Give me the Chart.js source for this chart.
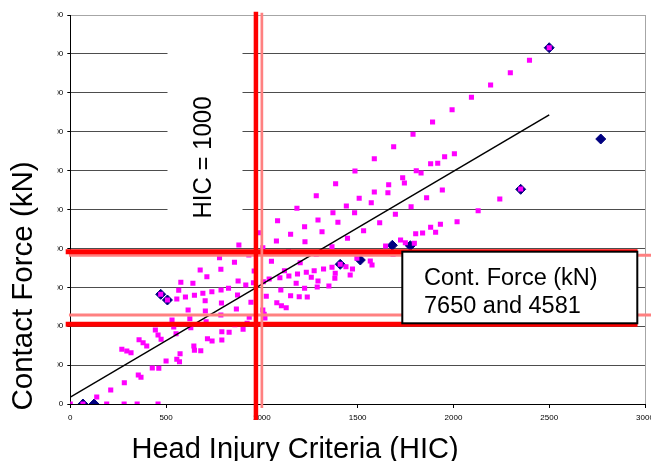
<!DOCTYPE html>
<html>
<head>
<meta charset="utf-8">
<script src="https://cdn.jsdelivr.net/npm/chart.js@4.4.0/dist/chart.umd.min.js"></script>
<style>
  body { margin: 0; background: #fff; }
  #wrap { width: 651px; height: 461px; }
</style>
</head>
<body>
<div id="wrap"><canvas id="hicChart" width="651" height="461"></canvas></div>
<script>
// Magenta squares: HIC against contact force (kN)
const squareHic = [
  0, 66, 190, 281, 349, 458, 138, 211, 282, 355, 369, 428, 462, 500, 556, 570, 573, 269, 295, 317,
  359, 380, 399, 474, 458, 444, 552, 531, 540, 615, 624, 629, 645, 648, 681, 716, 740, 791, 791, 829,
  902, 859, 709, 705, 786, 867, 934, 923, 943, 789, 704, 556, 601, 648, 692, 739, 787, 826, 873, 876,
  916, 956, 577, 566, 640, 678, 713, 786, 779, 857, 880, 932, 960, 984, 1005, 1008, 1023, 1005, 1012, 1016,
  1038, 1050, 1076, 1082, 1094, 1099, 1078, 1102, 1127, 1118, 1139, 1141, 1150, 1150, 1179, 1186, 1183, 1195, 1200, 1223,
  1225, 1223, 1232, 1237, 1258, 1273, 1284, 1293, 1293, 1289, 1314, 1322, 1350, 1366, 1366, 1371, 1381, 1383, 1397, 1409,
  1439, 1441, 1447, 1461, 1473, 1484, 1496, 1508, 1284, 1385, 1486, 1587, 1688, 1789, 1891, 1993, 2094, 2194, 2297, 2397,
  2500, 2005, 1954, 1918, 1881, 1806, 1831, 1735, 1744, 1662, 1658, 1587, 1942, 1860, 2242, 2351, 1571, 1531, 1615, 1697,
  1779, 2129, 2019, 1932, 1881, 1907, 1839, 1803, 1724, 1749, 1796, 1646, 1685, 1566, 1566, 1575, 472, 507
];
const squareForce = [
  0, 0, 0, 0, 0, 0, 360, 720, 1095, 1491, 1373, 1851, 1835, 2211, 2298, 2175, 2586, 2812, 2725, 2637,
  3306, 3151, 2982, 3326, 3547, 3804, 3614, 4318, 3959, 4833, 4385, 3923, 2982, 2761, 2740, 3357, 3239, 3291, 3717, 3686,
  3840, 4077, 4231, 4781, 4576, 4884, 4457, 4149, 5228, 5192, 5311, 5398, 5501, 5588, 5691, 5773, 5861, 5948, 5604, 6323,
  6118, 6236, 6257, 5845, 6205, 6889, 6545, 6925, 7521, 7285, 8174, 7660, 6838, 8807, 8036, 6288, 5537, 4833, 4612, 4421,
  6426, 7336, 8380, 9423, 6493, 5861, 5208, 5054, 4951, 6853, 7830, 6580, 8724, 5568, 6205, 6683, 10061, 5516, 7264, 9115,
  8344, 5948, 6771, 5501, 6514, 6853, 7696, 9459, 6323, 6015, 8858, 6940, 6066, 7028, 8087, 9835, 6462, 6719, 9341, 7182,
  7059, 10179, 8519, 6632, 6940, 9835, 7490, 10575, 10709, 11326, 11979, 12611, 13228, 13865, 14498, 15130, 15768, 16400, 17032, 17670,
  18317, 12868, 12714, 12375, 12354, 11994, 11876, 11634, 11362, 11274, 10863, 10899, 11002, 10606, 10539, 11053, 10349, 8909, 9321, 9753,
  10143, 9938, 9372, 9238, 9084, 8827, 8791, 8755, 8431, 8293, 8262, 8123, 7696, 7778, 7352, 7146, 5640, 5347
];

// Navy diamonds
const diamondHic = [66, 124, 472, 507, 1409, 1514, 1681, 1775, 2500, 2351, 2769];
const diamondForce = [0, 0, 5640, 5347, 7182, 7403, 8159, 8138, 18317, 11038, 13624];

// Linear trend line
const trendHic = [0, 2500];
const trendForce = [350, 14860];

// Threshold lines (thick / light)
const hicLines = [969, 1000];
const forceLines = [7830, 7650, 4581, 4100];

// Axis ticks
const xTickValues = [0, 500, 1000, 1500, 2000, 2500, 3000];
const yTickValues = [0, 2000, 4000, 6000, 8000, 10000, 12000, 14000, 16000, 18000, 20000];

const FONT = 'Arial, "Liberation Sans", sans-serif';
const RED = '#ff0000';
const LIGHT_RED = '#ff8080';

const toPoints = (xs, ys) => xs.map((x, i) => ({ x: x, y: ys[i] }));

function vLine(x, y0, y1, color, width) {
  return {
    data: [{ x: x, y: y0 }, { x: x, y: y1 }],
    showLine: true, borderColor: color, borderWidth: width,
    pointRadius: 0, clip: false, order: 0
  };
}

function hLine(y, x0, x1, color, width) {
  return {
    data: [{ x: x0, y: y }, { x: x1, y: y }],
    showLine: true, borderColor: color, borderWidth: width,
    pointRadius: 0, clip: false, order: 0
  };
}

// Notes, titles and the cut-off value labels
const overlays = {
  id: 'overlays',
  beforeDatasetsDraw(chart) {
    const ctx = chart.ctx;
    ctx.save();
    ctx.fillStyle = '#fff';
    ctx.fillRect(39, 0, 18.5, 412);
    ctx.fillRect(167.5, 18, 75, 205);
    ctx.fillStyle = '#000';
    ctx.font = '24px ' + FONT;
    ctx.textAlign = 'center';
    ctx.textBaseline = 'alphabetic';
    ctx.translate(210.7, 157.5);
    ctx.rotate(-Math.PI / 2);
    ctx.scale(1, 1.1);
    ctx.fillText('HIC = 1000', 0, 0);
    ctx.restore();
  },
  afterDatasetsDraw(chart) {
    const ctx = chart.ctx;
    ctx.save();
    ctx.fillStyle = '#fff';
    ctx.fillRect(402.3, 251.7, 235, 71.6);
    ctx.strokeStyle = '#000';
    ctx.lineWidth = 2;
    ctx.strokeRect(402.3, 251.7, 235, 71.6);
    ctx.fillStyle = '#000';
    ctx.font = '23.5px ' + FONT;
    ctx.textAlign = 'left';
    ctx.textBaseline = 'alphabetic';
    ctx.fillText('Cont. Force (kN)', 424, 285);
    ctx.fillText('7650 and 4581', 424, 312.5);
    ctx.restore();
  },
  afterDraw(chart) {
    const ctx = chart.ctx;
    ctx.save();
    ctx.fillStyle = '#000';
    ctx.font = '29px ' + FONT;
    ctx.textAlign = 'center';
    ctx.textBaseline = 'alphabetic';
    ctx.fillText('Head Injury Criteria (HIC)', 295, 457.5);
    ctx.translate(32, 286);
    ctx.rotate(-Math.PI / 2);
    ctx.font = '29.5px ' + FONT;
    ctx.fillText('Contact Force (kN)', 0, 0);
    ctx.restore();
  }
};

function initializeChart() {
  const ctx = document.getElementById('hicChart').getContext('2d');
  new Chart(ctx, {
    type: 'scatter',
    data: {
      datasets: [
        vLine(hicLines[0], -820, 20170, RED, 4.5),
        vLine(hicLines[1], -210, 20120, LIGHT_RED, 2.7),
        hLine(forceLines[0], -24, 2961, RED, 5),
        hLine(forceLines[1], -7, 3040, LIGHT_RED, 3),
        hLine(forceLines[2], -7, 3040, LIGHT_RED, 3),
        hLine(forceLines[3], -24, 2961, RED, 5),
        {
          data: toPoints(trendHic, trendForce),
          showLine: true, borderColor: '#000', borderWidth: 1.5,
          pointRadius: 0, order: 1
        },
        {
          data: toPoints(squareHic, squareForce),
          pointStyle: 'rect', pointRadius: 3.6,
          backgroundColor: '#ff00ff', borderWidth: 0, order: 2
        },
        {
          data: toPoints(diamondHic, diamondForce),
          pointStyle: 'rectRot', pointRadius: 5,
          backgroundColor: '#000080', borderColor: '#000080', borderWidth: 1, order: 3
        }
      ]
    },
    options: {
      responsive: false,
      animation: false,
      events: [],
      layout: { padding: { top: 15, right: 5.5, left: 0, bottom: 0 } },
      plugins: { legend: { display: false }, tooltip: { enabled: false } },
      scales: {
        x: {
          type: 'linear', min: 0, max: 3000,
          afterBuildTicks: s => { s.ticks = xTickValues.map(v => ({ value: v })); },
          afterFit: s => { s.height = 57; s.paddingLeft = 0; s.paddingRight = 0; },
          border: { color: '#000', width: 1 },
          grid: {
            color: c => (c.tick && c.tick.value === 3000) ? '#a6a6a6' : 'rgba(0,0,0,0)',
            tickColor: '#000', tickLength: 4
          },
          ticks: {
            font: { family: FONT, size: 8 }, color: '#000', padding: 5,
            maxRotation: 0, autoSkip: false, callback: v => String(v)
          }
        },
        y: {
          type: 'linear', min: 0, max: 20000,
          afterBuildTicks: s => { s.ticks = yTickValues.map(v => ({ value: v })); },
          afterFit: s => { s.width = 70.3; s.paddingTop = 0; s.paddingBottom = 0; },
          border: { color: '#000', width: 1 },
          grid: {
            color: c => (c.tick && c.tick.value === 20000) ? '#a6a6a6' : '#4d4d4d',
            tickColor: '#000', tickLength: 3
          },
          ticks: {
            font: { family: FONT, size: 8 }, color: '#000', padding: 4,
            autoSkip: false, callback: v => String(v)
          }
        }
      }
    },
    plugins: [overlays]
  });
}

document.addEventListener('DOMContentLoaded', initializeChart);
</script>
</body>
</html>
